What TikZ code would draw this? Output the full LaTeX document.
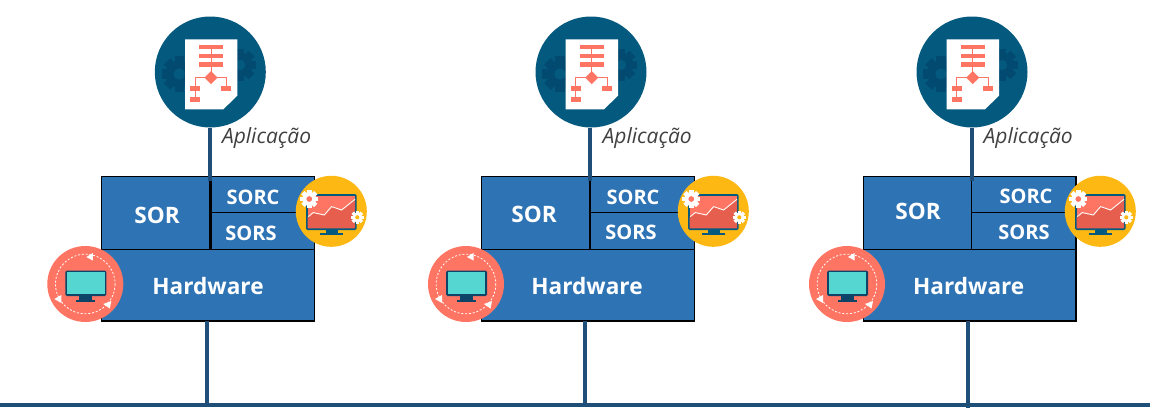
\documentclass[tikz,border=0pt]{standalone}
\usepackage{fontspec}
\setmainfont{Open Sans}
\usetikzlibrary{calc}
\definecolor{stemblue}{HTML}{1F4E79}
\definecolor{cellblue}{HTML}{2E74B5}
\definecolor{appblue}{HTML}{04597F}
\definecolor{gearblue}{HTML}{034A70}
\definecolor{salmon}{HTML}{FF7563}
\definecolor{salmondark}{HTML}{E65F4E}
\definecolor{amber}{HTML}{FDB813}
\definecolor{teal}{HTML}{55D6D0}
\definecolor{navy}{HTML}{0E4468}
\tikzset{
  stem/.style={stemblue, line width=4pt},
  cell/.style={draw=black, fill=cellblue, line width=1.3pt, inner sep=0pt, outer sep=0pt, anchor=north west},
  celltext/.style={white, font=\bfseries\fontsize{22.6}{23}\selectfont, inner sep=0pt},
  subtext/.style={white, font=\bfseries\fontsize{20}{20}\selectfont, inner sep=0pt},
  apptext/.style={black!75, font=\itshape\fontsize{21}{22}\selectfont, inner sep=0pt, anchor=west},
  disc/.style={circle, inner sep=0pt, outer sep=0pt}
}
\newcommand{\gearicon}[5]{
  \foreach \a in {0,45,...,315} \fill[#4, shift={(#1,#2)}, rotate=\a] ({-.26*#3},0) rectangle ({.26*#3},#3);
  \fill[#4] (#1,#2) circle ({.76*#3});
  \fill[#5] (#1,#2) circle ({.32*#3});
}
\newcommand{\appicon}[3]{
  \node[disc, fill=appblue, minimum size=111pt] (#1) at (#2,#3) {};
  \begin{scope}[shift={(#2,#3)}]
    \gearicon{-31}{2}{17.7}{gearblue}{appblue}
    \gearicon{30}{-7}{16}{gearblue}{appblue}
    \fill[white] (-25.3,-32.7) -- (27,-32.7) -- (27,23.7) -- (13,37.3) -- (-25.3,37.3) -- cycle;
    \draw[salmon, line width=1pt] (.7,-25) -- (.7,5.7);
    \draw[salmon, line width=1pt] (-15.3,27) -- (-15.3,5.7) -- (16.3,5.7) -- (16.3,15);
    \foreach \by in {-27,-18.3,-9.7} \fill[salmon] (-11.3,\by) rectangle (12.7,\by+4.4);
    \fill[salmon] (.7,-.8) -- (7.2,5.7) -- (.7,12.2) -- (-5.8,5.7) -- cycle;
    \fill[salmon] (-20,14.3) rectangle (-10.3,18.7);
    \fill[salmon] (-20,25.3) rectangle (-10.3,29.7);
    \fill[salmon] (11,14.3) rectangle (20.7,18.7);
  \end{scope}
}
\newcommand{\sorcicon}[3]{
  \node[disc, fill=amber, minimum size=71pt] (#1) at (#2,#3) {};
  \begin{scope}[shift={(#2,#3)}]
    \fill[appblue, rounded corners=1.5pt] (-25.3,-17.3) rectangle (25.3,18.7);
    \fill[salmon] (-23.7,-15.7) rectangle (23.7,17);
    \fill[salmondark] (-23.7,17) -- (-23.7,5.3) -- (-18,1.3) -- (-7,3.7) -- (.3,-4.7) -- (10.3,-1.3) -- (23.7,-12) -- (23.7,17) -- cycle;
    \draw[white, line width=.9pt] (-23,5.3) -- (-18,1.3) -- (-7,3.7) -- (.3,-4.7) -- (10.3,-1.3) -- (23.7,-12);
    \fill[appblue] (-5.7,18.7) rectangle (6.3,22);
    \fill[appblue] (-11.3,22) rectangle (12,23.7);
    \gearicon{-22}{-12.3}{9}{white}{salmon}
    \gearicon{26}{6}{6.5}{white}{amber}
  \end{scope}
}
\newcommand{\hwicon}[3]{
  \node[disc, fill=salmon, minimum size=76pt] (#1) at (#2,#3) {};
  \begin{scope}[shift={(#2,#3)}]
    \draw[white, line width=.8pt, dash pattern=on 2pt off 1.8pt] (0,0) circle (29.8);
    \fill[navy, rounded corners=1.5pt] (-20,-13.5) rectangle (21,12);
    \fill[teal] (-18.3,-11.8) rectangle (19.3,10.3);
    \fill[navy] (-6,12) rectangle (7,16);
    \fill[navy] (-9.3,16) rectangle (9.7,18);
    \fill[white] (1,-27) -- (7.5,-31) -- (7.5,-23.5) -- cycle;
    \fill[white] (-24,19) -- (-31,15) -- (-24,11) -- cycle;
    \fill[white] (26,17) -- (24.5,24.5) -- (18,20) -- cycle;
  \end{scope}
}

\begin{document}
\begin{tikzpicture}[x=1pt, y=-1pt]
  \useasboundingbox (0,0) rectangle (1174,410);
  \coordinate (busl) at (0,405);
  \coordinate (busr) at (1150,405);
  \draw[stem] (busl) -- (busr);
  \foreach \id/\bx/\appx/\dw/\dnx/\dnend/\sorx/\sory/\subx/\subc/\subs/\hwx/\yx/\rx in {
      a/101.7/210.3/3/207/405/157/215.7/253/197/233/208/331.3/85.3,
      b/481.7/591/1.5/585/405/534/214/633/197/232/587/713.3/466,
      c/863.3/972/1.5/968/408/918/211/1026/196/232/968.7/1100.3/847} {
    % boxes
    \node[cell, minimum width=108.3pt, minimum height=72.6pt] (sor\id) at (\bx,176.7) {};
    \node[cell, minimum width=104.3pt, minimum height=35.6pt] (sorc\id) at (\bx+108.3,176.7) {};
    \node[cell, minimum width=104.3pt, minimum height=37pt] (sors\id) at (\bx+108.3,212.3) {};
    \node[cell, minimum width=212.6pt, minimum height=71.7pt] (hw\id) at (\bx,249.3) {};
    \draw[line width=\dw pt] (sor\id.north east) -- (sor\id.south east);
    \node[celltext] (sorlbl\id) at (\sorx,\sory) {SOR};
    \node[subtext] (sorclbl\id) at (\subx,\subc) {SORC};
    \node[subtext] (sorslbl\id) at (\subx-2,\subs) {SORS};
    \node[celltext] (hwlbl\id) at (\hwx,285.8) {Hardware};
    % stems
    \coordinate (top\id) at ($(sor\id.north east)+(0,4.5)$);
    \appicon{app\id}{\appx}{72}
    \draw[stem] (top\id |- app\id.south) -- (top\id);
    \node[apptext] (applbl\id) at (\appx+11.5,138) {Aplicação};
    \coordinate (dn\id) at (\dnx,321);
    \coordinate (dne\id) at (\dnx,\dnend);
    \draw[stem] (dn\id) -- (dne\id);
    % icons
    \sorcicon{sorcic\id}{\yx}{211.3}
    \hwicon{hwic\id}{\rx}{284}
  }
\end{tikzpicture}
\end{document}
